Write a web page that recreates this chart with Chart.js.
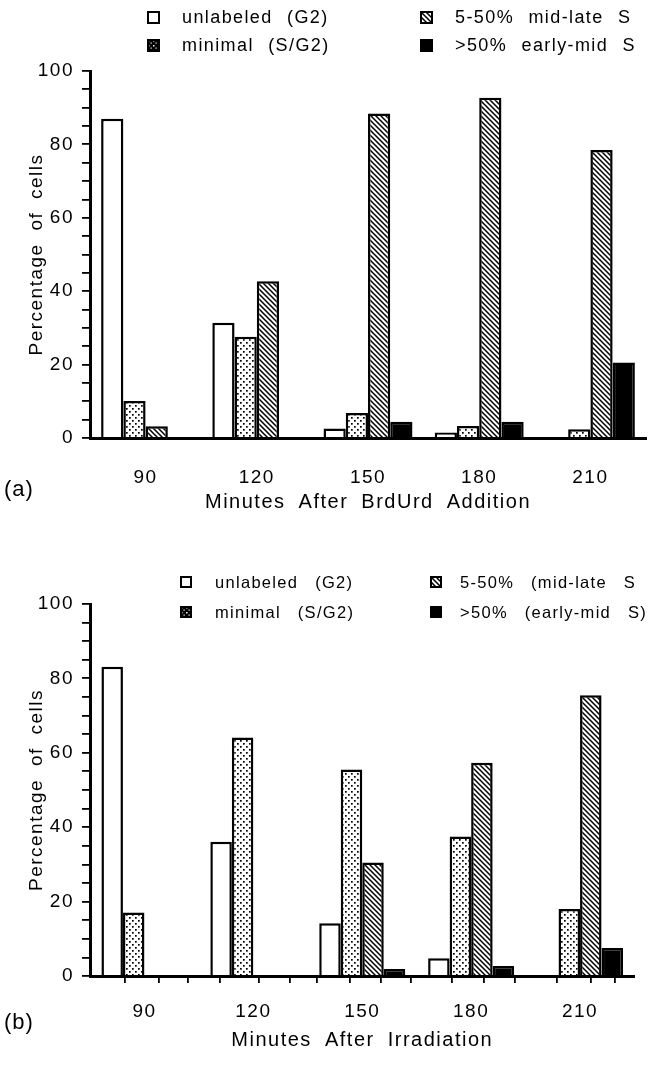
<!DOCTYPE html>
<html>
<head>
<meta charset="utf-8">
<script src="https://cdn.jsdelivr.net/npm/chart.js@4.4.1/dist/chart.umd.min.js"></script>
<style>
  html, body { margin: 0; padding: 0; background: #fff; }
  body { width: 648px; height: 1065px; position: relative; overflow: hidden;
         font-family: "Liberation Sans", Arial, Helvetica, sans-serif; color: #000; }
  .panel { position: absolute; left: 0; }
  .lg-box { position: absolute; }
  .lg-text { position: absolute; white-space: nowrap; line-height: 20px; }
  #legendA .lg-text { font-size: 18px; letter-spacing: 1.4px; word-spacing: 8px; }
  #legendB .lg-text { font-size: 16.5px; letter-spacing: 1.3px; word-spacing: 11px; }
  .tag { position: absolute; font-size: 22px; line-height: 24px; letter-spacing: 1px; }
</style>
</head>
<body>
  <canvas id="chartA" class="panel" width="648" height="530" style="top:0"></canvas>
  <canvas id="chartB" class="panel" width="648" height="535" style="top:530px"></canvas>
  <div id="legendA"></div>
  <div id="legendB"></div>
  <div class="tag" style="left:4px; top:477px">(a)</div>
  <div class="tag" style="left:4px; top:1010px">(b)</div>

<script>
// ── Data ─────────────────────────────────────────────────────────────────────

const MINUTES = ['90', '120', '150', '180', '210'];

const SERIES_NAMES_A = ['unlabeled (G2)', 'minimal (S/G2)', '5-50% mid-late S', '>50% early-mid S'];
const SERIES_NAMES_B = ['unlabeled (G2)', 'minimal (S/G2)', '5-50% (mid-late S', '>50% (early-mid S)'];

// (a) minutes after BrdUrd addition, % of cells
const UNLABELED_A = [87.0, 31.4, 2.6, 1.5, 0];
const MINIMAL_A   = [10.1, 27.6, 6.8, 3.3, 2.4];
const MIDLATE_A   = [3.2, 42.7, 88.4, 92.7, 78.5];
const EARLYMID_A  = [0, 0, 4.4, 4.4, 20.6];

// (b) minutes after irradiation, % of cells
const UNLABELED_B = [83.1, 36.1, 14.2, 4.8, 0];
const MINIMAL_B   = [17.1, 64.1, 55.5, 37.5, 18.0];
const MIDLATE_B   = [0, 0, 30.5, 57.3, 75.5];
const EARLYMID_B  = [0, 0, 1.9, 2.7, 7.5];

const Y_LABELLED = [0, 20, 40, 60, 80, 100];   // minor ticks every 5
// small tick marks under the (b) x axis, in minutes
const X_MARKS_B = [85, 95, 102, 114, 125, 132, 141, 152, 159, 170, 183, 189, 201, 214, 221];

// ── Fills ────────────────────────────────────────────────────────────────────

function tile(size, bg, paint) {
  const c = document.createElement('canvas');
  c.width = size; c.height = size;
  const g = c.getContext('2d');
  g.fillStyle = bg;
  g.fillRect(0, 0, size, size);
  paint(g, size);
  return c;
}

function makeFills(ctx) {
  const dots = tile(6, '#fff', (g) => {
    g.fillStyle = '#000';
    g.fillRect(0, 0, 1.7, 1.7);
    g.fillRect(3, 3, 1.7, 1.7);
  });
  const hatch = tile(5, '#fff', (g, n) => {
    g.strokeStyle = '#000';
    g.lineWidth = 1.5;
    g.beginPath();
    g.moveTo(-1, -1); g.lineTo(n + 1, n + 1);
    g.moveTo(-1, n - 1); g.lineTo(1, n + 1);
    g.moveTo(n - 1, -1); g.lineTo(n + 1, 1);
    g.stroke();
  });
  return ['#ffffff', ctx.createPattern(dots, 'repeat'), ctx.createPattern(hatch, 'repeat'), '#000000'];
}

// the tiny printed stipple swatch reads as dark with white specks
function swatchStipple(ctx) {
  const specks = tile(5, '#000', (g) => {
    g.fillStyle = '#fff';
    g.fillRect(1, 1, 1.5, 1.5);
    g.fillRect(3.5, 3.5, 1.2, 1.2);
  });
  return ctx.createPattern(specks, 'repeat');
}

// ── Legend (HTML, swatches painted with the same fills) ──────────────────────

function buildLegend(holderId, names, layout) {
  const holder = document.getElementById(holderId);
  names.forEach((name, i) => {
    const col = i < 2 ? 0 : 1;
    const row = i % 2;
    const y = layout.rows[row];
    const sw = document.createElement('canvas');
    sw.width = layout.box; sw.height = layout.box;
    sw.className = 'lg-box';
    sw.style.left = layout.boxX[col] + 'px';
    sw.style.top = Math.round(y - layout.box / 2) + 'px';
    const g = sw.getContext('2d');
    g.fillStyle = i === 1 ? swatchStipple(g) : makeFills(g)[i];
    g.fillRect(0, 0, layout.box, layout.box);
    g.strokeStyle = '#000';
    g.lineWidth = 2;
    g.strokeRect(1, 1, layout.box - 2, layout.box - 2);
    holder.appendChild(sw);

    const t = document.createElement('div');
    t.className = 'lg-text';
    t.textContent = name;
    t.style.left = layout.textX[col] + 'px';
    t.style.top = (y - 10) + 'px';
    holder.appendChild(t);
  });
}

// ── Charts ───────────────────────────────────────────────────────────────────

function setSpacing(ctx) { ctx.letterSpacing = '1.5px'; ctx.wordSpacing = '6px'; }

const textSpacing = {
  id: 'textSpacing',
  beforeLayout(chart) { setSpacing(chart.ctx); },
  beforeDraw(chart) { setSpacing(chart.ctx); }
};

const FAMILY = '"Liberation Sans", Arial, Helvetica, sans-serif';
const TICK_FONT = { family: FAMILY, size: 19 };
const TITLE_FONT = { family: FAMILY, size: 20 };

function buildChart(canvasId, cfg) {
  const ctx = document.getElementById(canvasId).getContext('2d');
  const fills = makeFills(ctx);

  const scales = {
    x: {
      type: 'category',
      offset: true,
      weight: 1,
      afterFit(s) { s.height = cfg.xHeight; },
      grid: { display: false, drawTicks: false },
      border: { display: true, color: '#000', width: 3 },
      ticks: { color: '#000', font: TICK_FONT, padding: cfg.xLabelPad, maxRotation: 0, autoSkip: false },
      title: { display: true, text: cfg.xTitle, color: '#000', font: TITLE_FONT,
               padding: { top: 0, bottom: cfg.xTitlePad } }
    },
    y: {
      min: 0, max: 100,
      afterFit(s) { s.width = 90; },
      ticks: {
        stepSize: 5, autoSkip: false, padding: 8, color: '#000', font: TICK_FONT,
        callback: (v) => Y_LABELLED.includes(v) ? String(v) : ''
      },
      grid: { drawOnChartArea: false, drawTicks: true, tickLength: 8, color: '#000', lineWidth: 1.8 },
      border: { display: true, color: '#000', width: 3 },
      title: { display: true, text: 'Percentage of cells', color: '#000',
               font: { family: FAMILY, size: 19 }, padding: { top: 25, bottom: 0 } }
    }
  };

  if (cfg.marks) {
    scales.xm = {
      type: 'linear', position: 'bottom', weight: 0,
      min: 75, max: 225,
      afterFit(s) { s.height = 0; },
      afterBuildTicks(s) { s.ticks = cfg.marks.map((v) => ({ value: v })); },
      ticks: { display: false },
      grid: { drawOnChartArea: false, drawTicks: true, tickLength: 7, color: '#000', lineWidth: 1.8 },
      border: { display: false }
    };
  }

  return new Chart(ctx, {
    type: 'bar',
    data: {
      labels: MINUTES,
      datasets: cfg.series.map((data, i) => ({
        label: cfg.names[i],
        data,
        xAxisID: 'x',
        backgroundColor: fills[i],
        borderColor: '#000',
        borderWidth: 2.5,
        categoryPercentage: cfg.catPct,
        barPercentage: 1
      }))
    },
    options: {
      responsive: false,
      animation: false,
      layout: { padding: cfg.padding },
      plugins: { legend: { display: false }, tooltip: { enabled: false } },
      scales
    },
    plugins: [textSpacing]
  });
}

buildChart('chartA', {
  series: [UNLABELED_A, MINIMAL_A, MIDLATE_A, EARLYMID_A],
  names: SERIES_NAMES_A,
  xTitle: 'Minutes After BrdUrd Addition',
  padding: { top: 71, right: 2, left: 0, bottom: 0 },
  xHeight: 92, xLabelPad: 28, xTitlePad: 16,
  catPct: 0.8
});

buildChart('chartB', {
  series: [UNLABELED_B, MINIMAL_B, MIDLATE_B, EARLYMID_B],
  names: SERIES_NAMES_B,
  xTitle: 'Minutes After Irradiation',
  padding: { top: 74, right: 13.5, left: 0, bottom: 0 },
  xHeight: 89, xLabelPad: 24, xTitlePad: 13,
  catPct: 0.79,
  marks: X_MARKS_B
});

buildLegend('legendA', SERIES_NAMES_A, { rows: [17, 45], boxX: [147, 420], textX: [182, 455], box: 13 });
buildLegend('legendB', SERIES_NAMES_B, { rows: [582, 612], boxX: [180, 430], textX: [215, 460], box: 12 });
</script>
</body>
</html>
